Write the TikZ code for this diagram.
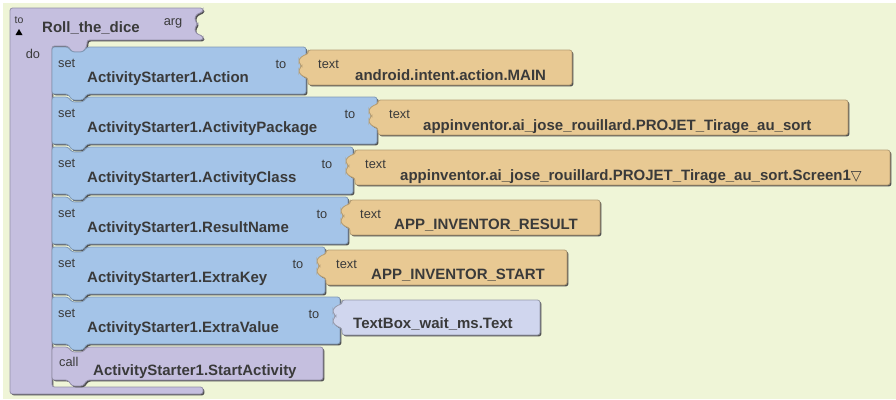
\documentclass[tikz,border=0pt]{standalone}
\usepackage{fontspec}
\setmainfont{Liberation Sans}
\newfontfamily\symfont{DejaVu Sans}
\definecolor{bg}{HTML}{EFF5D7}
\definecolor{procc}{HTML}{C5BFDF}
\definecolor{setc}{HTML}{A4C4E8}
\definecolor{txtc}{HTML}{E8C993}
\definecolor{compc}{HTML}{D0D6EE}
\definecolor{ink}{HTML}{3A3A3A}
\definecolor{shade}{HTML}{505050}
\tikzset{
  blockpath/.style={rounded corners=2.5pt, line width=0.8pt},
  shadowpath/.style={fill=shade, rounded corners=2.5pt, shift={(1.4,1.4)}},
  procblock/.style={blockpath, fill=procc, draw=procc!75!black},
  setblock/.style={blockpath, fill=setc, draw=setc!78!black},
  textblock/.style={blockpath, fill=txtc, draw=txtc!78!black},
  compblock/.style={blockpath, fill=compc, draw=compc!72!black},
  small/.style={font=\fontsize{12.8}{14}\selectfont, text=ink, inner sep=0pt},
  tiny/.style={font=\fontsize{10.5}{12}\selectfont, text=ink, inner sep=0pt},
  big/.style={font=\bfseries\fontsize{15}{18}\selectfont, text=ink, inner sep=0pt},
}
% statement block: #1 top, #2 right, #3 bottom, #4 style
\newcommand\StmtBlk[4]{%
  \fill[shadowpath] (52,#1) -- (68,#1) -- (72,#1+5) -- (83,#1+5) -- (87,#1) -- (#2,#1) -- (#2,#3) -- (87,#3) -- (83,#3+6) -- (72,#3+6) -- (68,#3) -- (52,#3) -- cycle;
  \filldraw[#4] (52,#1) -- (68,#1) -- (72,#1+5) -- (83,#1+5) -- (87,#1) -- (#2,#1) -- (#2,#3) -- (87,#3) -- (83,#3+6) -- (72,#3+6) -- (68,#3) -- (52,#3) -- cycle;
}
% value block: #1 left, #2 top, #3 right, #4 style
\newcommand\ValBlk[4]{%
  \fill[shadowpath] (#1,#2) -- (#3,#2) -- (#3,#2+35) -- (#1,#2+35) -- (#1,#2+28) -- (#1-4,#2+27) -- (#1-9,#2+23) -- (#1-9,#2+19) -- (#1-6,#2+16) -- (#1-9,#2+13) -- (#1-9,#2+9) -- (#1-4,#2+5) -- (#1,#2+4) -- cycle;
  \filldraw[#4] (#1,#2) -- (#3,#2) -- (#3,#2+35) -- (#1,#2+35) -- (#1,#2+28) -- (#1-4,#2+27) -- (#1-9,#2+23) -- (#1-9,#2+19) -- (#1-6,#2+16) -- (#1-9,#2+13) -- (#1-9,#2+9) -- (#1-4,#2+5) -- (#1,#2+4) -- cycle;
}
\begin{document}
\begin{tikzpicture}[x=1pt,y=-1pt]
\useasboundingbox (0,0) rectangle (896,399);
\fill[white] (0,0) rectangle (896,399);
\fill[bg] (3,3) rectangle (896,399);

% procedure block
\fill[shadowpath] (10,8) -- (203,8) -- (203,12) -- (199,13) -- (195,16) -- (195,21) -- (198,24) -- (195,27) -- (195,32) -- (199,35) -- (203,36) -- (203,40) -- (87,40) -- (87,46) -- (83,52) -- (72,52) -- (68,46) -- (52,46) -- (52,387) -- (203,387) -- (203,394) -- (10,394) -- cycle;
\filldraw[procblock] (10,8) -- (203,8) -- (203,12) -- (199,13) -- (195,16) -- (195,21) -- (198,24) -- (195,27) -- (195,32) -- (199,35) -- (203,36) -- (203,40) -- (87,40) -- (87,46) -- (83,52) -- (72,52) -- (68,46) -- (52,46) -- (52,387) -- (203,387) -- (203,394) -- (10,394) -- cycle;
\node[tiny] (pto) at (19,20) {to};
\fill[black] (15.5,35) -- (22.5,35) -- (19,29) -- cycle;
\node[big, anchor=base west] (proll) at (42,32) {Roll\_the\_dice};
\node[small] (parg) at (173,23) {arg};
\node[small] (pdo) at (33,54) {do};

% statement blocks
\StmtBlk{47}{306}{94}{setblock}
\StmtBlk{97}{377}{144}{setblock}
\StmtBlk{147}{353}{194}{setblock}
\StmtBlk{197}{348}{244}{setblock}
\StmtBlk{247}{325}{294}{setblock}
\StmtBlk{297}{340}{344}{setblock}
\StmtBlk{347}{323}{380}{procblock}

% value blocks
\ValBlk{308}{50}{572}{textblock}
\ValBlk{378}{100}{848}{textblock}
\ValBlk{355}{150}{890}{textblock}
\ValBlk{350}{200}{600}{textblock}
\ValBlk{326}{250}{567}{textblock}
\ValBlk{342}{300}{540}{compblock}

% block 1
\node[small, anchor=west] (s1set) at (58,63) {set};
\node[big, anchor=base west] (s1name) at (87,82) {ActivityStarter1.Action};
\node[small] (s1to) at (281,64) {to};
\node[small, anchor=west] (s1text) at (318,64) {text};
\node[big, anchor=base west] (s1val) at (355,80) {android.intent.action.MAIN};
% block 2
\node[small, anchor=west] (s2set) at (58,113) {set};
\node[big, anchor=base west] (s2name) at (87,132) {ActivityStarter1.ActivityPackage};
\node[small] (s2to) at (350,114) {to};
\node[small, anchor=west] (s2text) at (389,114) {text};
\node[big, anchor=base west] (s2val) at (423,130) {appinventor.ai\_jose\_rouillard.PROJET\_Tirage\_au\_sort};
% block 3
\node[small, anchor=west] (s3set) at (58,163) {set};
\node[big, anchor=base west] (s3name) at (87,182) {ActivityStarter1.ActivityClass};
\node[small] (s3to) at (327,164) {to};
\node[small, anchor=west] (s3text) at (365,164) {text};
\node[big, anchor=base west] (s3val) at (400,180) {appinventor.ai\_jose\_rouillard.PROJET\_Tirage\_au\_sort.Screen1{\symfont\mdseries\fontsize{14}{16}\selectfont ▽}};
% block 4
\node[small, anchor=west] (s4set) at (58,213) {set};
\node[big, anchor=base west] (s4name) at (87,232) {ActivityStarter1.ResultName};
\node[small] (s4to) at (322,214) {to};
\node[small, anchor=west] (s4text) at (360,214) {text};
\node[big, anchor=base west] (s4val) at (394,229) {APP\_INVENTOR\_RESULT};
% block 5
\node[small, anchor=west] (s5set) at (58,263) {set};
\node[big, anchor=base west] (s5name) at (87,282) {ActivityStarter1.ExtraKey};
\node[small] (s5to) at (298,264) {to};
\node[small, anchor=west] (s5text) at (336,264) {text};
\node[big, anchor=base west] (s5val) at (371,279) {APP\_INVENTOR\_START};
% block 6
\node[small, anchor=west] (s6set) at (58,313) {set};
\node[big, anchor=base west] (s6name) at (87,332) {ActivityStarter1.ExtraValue};
\node[small] (s6to) at (314,314) {to};
\node[big, anchor=base west] (s6val) at (353,328) {TextBox\_wait\_ms.Text};
% call block
\node[small, anchor=west] (ccall) at (59,362) {call};
\node[big, anchor=base west] (cname) at (93,375) {ActivityStarter1.StartActivity};
\end{tikzpicture}
\end{document}
